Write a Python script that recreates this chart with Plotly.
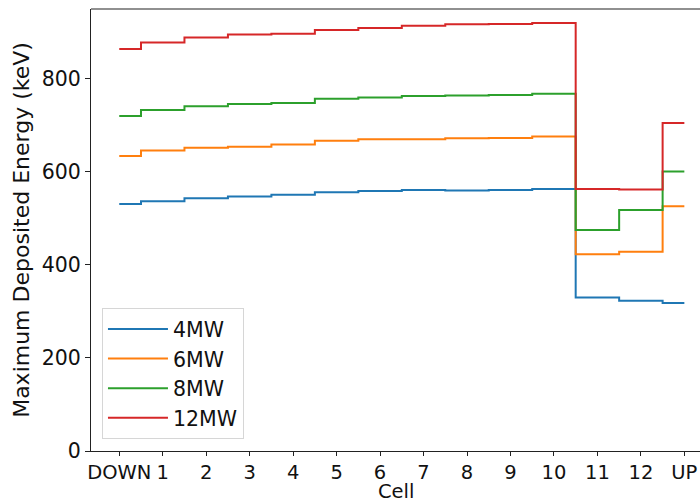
import plotly.graph_objects as go

# Cell labels along the beam line
cells = ["DOWN", "1", "2", "3", "4", "5", "6", "7", "8", "9", "10", "11", "12", "UP"]

# Maximum deposited energy per cell (keV) for each beam power
e_4mw = [531, 537, 543, 547, 551, 556, 559, 561, 560, 561, 563, 330, 323, 318]
e_6mw = [634, 646, 652, 654, 659, 667, 670, 670, 672, 673, 676, 423, 428, 526]
e_8mw = [720, 733, 741, 746, 748, 757, 760, 763, 764, 765, 768, 475, 518, 601]
e_12mw = [864, 878, 889, 895, 897, 905, 909, 914, 917, 918, 920, 563, 562, 705]

series = [
    ("4MW", e_4mw, "#1f77b4"),
    ("6MW", e_6mw, "#ff7f0e"),
    ("8MW", e_8mw, "#2ca02c"),
    ("12MW", e_12mw, "#d62728"),
]

FONT = "DejaVu Sans"
TICK_SIZE = 20.5
XTICK_SIZE = 19.5
TITLE_SIZE = 22
BOTTOM = 53

fig = go.Figure()
for name, vals, color in series:
    fig.add_trace(go.Scatter(
        x=cells, y=vals, name=name, mode="lines",
        line=dict(color=color, width=2, shape="hvh"),
    ))

axis_common = dict(
    showgrid=False, zeroline=False, showline=True, linecolor="#222",
    linewidth=1.1, ticks="outside", tickwidth=1.1, tickcolor="#222",
)

fig.update_xaxes(
    type="category", range=[-0.65, 13.36],
    tickmode="array", tickvals=cells, ticktext=cells, ticklen=4,
    tickfont=dict(family=FONT, size=XTICK_SIZE, color="#111"),
    **axis_common,
)
fig.update_yaxes(
    range=[0, 950], tickmode="array", tickvals=[0, 200, 400, 600, 800], ticklen=5,
    tickfont=dict(family=FONT, size=TICK_SIZE, color="#111"),
    title_text="Maximum Deposited Energy (keV)", title_standoff=6,
    title_font=dict(family=FONT, size=TITLE_SIZE, color="#111"),
    **axis_common,
)

# x-axis title sitting on the bottom edge, under the tick labels
plot_h = 504 - 9 - BOTTOM
fig.add_annotation(
    text="Cell", xref="paper", yref="paper", x=0.5, y=-BOTTOM / plot_h,
    xanchor="center", yanchor="bottom", showarrow=False, borderpad=0,
    font=dict(family=FONT, size=19.5, color="#111"),
)

# top spine
fig.add_shape(type="line", xref="paper", yref="paper", x0=0, x1=1, y0=1, y1=1,
              line=dict(color="#222", width=1.1))

fig.update_layout(
    width=700, height=504,
    margin=dict(l=91, r=0, t=9, b=BOTTOM),
    paper_bgcolor="white", plot_bgcolor="white",
    font=dict(family=FONT, size=TICK_SIZE, color="#111"),
    legend=dict(
        x=0.018, y=0.027, xanchor="left", yanchor="bottom",
        bgcolor="rgba(255,255,255,0.8)", bordercolor="#d6d6d6", borderwidth=1,
        font=dict(family=FONT, size=TICK_SIZE, color="#111"),
        tracegroupgap=0, itemwidth=60,
    ),
    showlegend=True,
)

fig.write_html("out.html")
